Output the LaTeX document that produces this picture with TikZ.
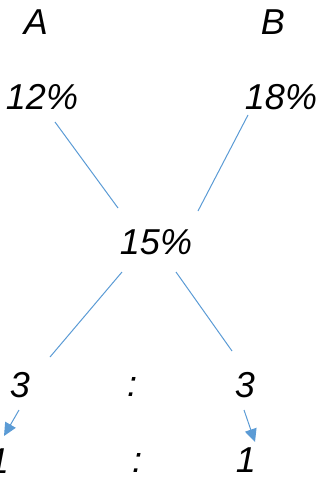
\documentclass[tikz,border=0pt]{standalone}
\usepackage{fontspec}
\setmainfont{Liberation Sans}
\usetikzlibrary{arrows.meta}
\definecolor{linkblue}{RGB}{91,155,213}

\begin{document}
\begin{tikzpicture}[
  x=1pt, y=-1pt,
  every node/.style={font=\fontsize{36}{40}\selectfont\itshape, inner sep=0pt},
  link/.style={draw=linkblue, line width=1pt},
  arr/.style={link, -{Triangle[length=13pt, width=12pt]}},
]
  \useasboundingbox (0,0) rectangle (320,479);

  \node (lblA) at (36,22)  {A};
  \node (lblB) at (273,22) {B};
  \node (pA)   at (42,97)  {12\%};
  \node (pB)   at (281,97) {18\%};
  \node (pMix) at (156,242) {15\%};
  \node (rA)   at (20,385)  {3};
  \node (cTop) at (132,387) {:};
  \node (rB)   at (245,385) {3};
  \node (qA)   at (-1,461)  {1};
  \node (cBot) at (137,463) {:};
  \node (qB)   at (246,460) {1};

  \draw[link] ([shift={(13,25)}]pA.center) -- ([shift={(-38,-34)}]pMix.center);
  \draw[link] ([shift={(-33,18)}]pB.center) -- ([shift={(42,-31)}]pMix.center);
  \draw[link] ([shift={(-34,30)}]pMix.center) -- ([shift={(30,-28)}]rA.center);
  \draw[link] ([shift={(20,30)}]pMix.center) -- ([shift={(-13,-34)}]rB.center);
  \draw[arr]  ([shift={(-1,25)}]rA.center) -- ([shift={(5,-25)}]qA.center);
  \draw[arr]  ([shift={(-1,25)}]rB.center) -- ([shift={(9,-18)}]qB.center);
\end{tikzpicture}
\end{document}
